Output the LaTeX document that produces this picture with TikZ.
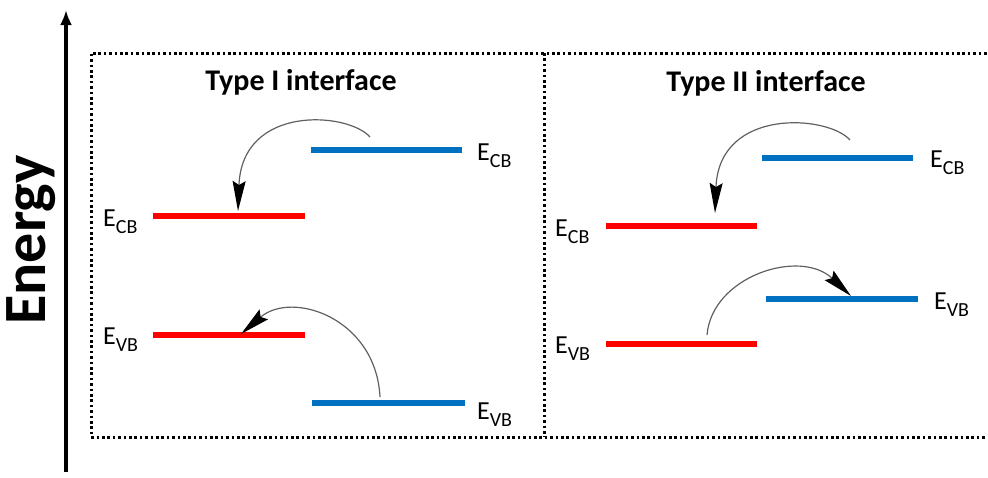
\documentclass[tikz,border=0pt]{standalone}
\usepackage{fontspec}
\setmainfont{Carlito}
\usetikzlibrary{arrows.meta}
\definecolor{bandblue}{HTML}{0070C0}
\definecolor{bandred}{HTML}{FF0000}
\newcommand{\lvl}[1]{E\raisebox{-0.28em}{\fontsize{20}{20}\selectfont #1}}
\tikzset{
  x=1pt, y=-1pt,
  frame/.style={line width=3pt, dash pattern=on 2.6pt off 2.8pt},
  redband/.style={bandred, line width=6pt},
  blueband/.style={bandblue, line width=6pt},
  lvlabel/.style={inner sep=0pt, font=\fontsize{26}{26}\selectfont},
  title/.style={inner sep=0pt, font=\fontsize{30}{30}\selectfont\bfseries},
  transfer/.style={gray!75!black, line width=1.2pt,
    -{Stealth[length=30pt, width=13pt, inset=4pt, black]}}
}
\begin{document}
\begin{tikzpicture}
\useasboundingbox (0,0) rectangle (988,477);

% energy axis
\coordinate (axisbot) at (66,472);
\coordinate (axistop) at (66,10);
\draw[line width=3.5pt, -{Latex[length=15pt, width=12pt]}] (axisbot) -- (axistop);
\node[rotate=90, inner sep=0pt, font=\fontsize{60}{60}\selectfont\bfseries] (energy) at (31,240) {Energy};

% dotted frames
\coordinate (tl) at (91,53);
\coordinate (bl) at (91,437);
\coordinate (tr) at (992,53);
\coordinate (br) at (992,437);
\coordinate (mt) at (544,53);
\coordinate (mb) at (544,437);
\draw[frame] (tr) -- (tl) -- (bl) -- (br);
\draw[frame] (mt) -- (mb);

\node[title] (t1) at (301,82) {Type I interface};
\node[title] (t2) at (766,83) {Type II interface};

% ---- type I ----
\coordinate (a1) at (311,150); \coordinate (a2) at (462,150);
\coordinate (b1) at (153,216); \coordinate (b2) at (305,216);
\coordinate (c1) at (153,335); \coordinate (c2) at (305,335);
\coordinate (d1) at (312,403); \coordinate (d2) at (465,403);
\draw[blueband] (a1) -- (a2);
\draw[redband] (b1) -- (b2);
\draw[redband] (c1) -- (c2);
\draw[blueband] (d1) -- (d2);
\node[lvlabel, anchor=base west] (la) at (477,160) {\lvl{CB}};
\node[lvlabel, anchor=base west] (lb) at (103,226) {\lvl{CB}};
\node[lvlabel, anchor=base west] (lc) at (103,344) {\lvl{VB}};
\node[lvlabel, anchor=base west] (ld) at (477,419) {\lvl{VB}};

\coordinate (s1) at (370,137); \coordinate (e1) at (238,211);
\draw[transfer] (s1) .. controls (348,112) and (242,104) .. (e1);
\coordinate (s2) at (380,397); \coordinate (e2) at (241,334);
\draw[transfer] (s2) .. controls (376,318) and (292,290) .. (e2);

% ---- type II ----
\coordinate (f1) at (762,158); \coordinate (f2) at (913,158);
\coordinate (g1) at (606,226); \coordinate (g2) at (757,226);
\coordinate (h1) at (766,299); \coordinate (h2) at (918,299);
\coordinate (k1) at (606,344); \coordinate (k2) at (757,344);
\draw[blueband] (f1) -- (f2);
\draw[redband] (g1) -- (g2);
\draw[blueband] (h1) -- (h2);
\draw[redband] (k1) -- (k2);
\node[lvlabel, anchor=base west] (lf) at (930,167) {\lvl{CB}};
\node[lvlabel, anchor=base west] (lg) at (555,236) {\lvl{CB}};
\node[lvlabel, anchor=base west] (lh) at (934,309) {\lvl{VB}};
\node[lvlabel, anchor=base west] (lk) at (555,353) {\lvl{VB}};

\coordinate (s3) at (850,140); \coordinate (e3) at (715,213);
\draw[transfer] (s3) .. controls (828,115) and (719,107) .. (e3);
\coordinate (s4) at (707,335); \coordinate (e4) at (851,296);
\draw[transfer] (s4) .. controls (712,276) and (800,248) .. (e4);
\end{tikzpicture}
\end{document}
